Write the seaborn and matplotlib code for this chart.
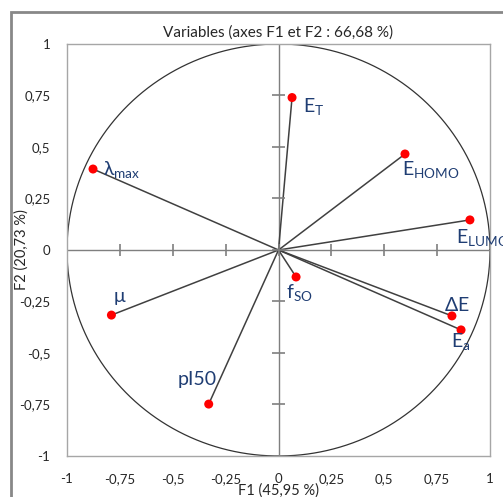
import numpy as np
import pandas as pd
import matplotlib.pyplot as plt
import seaborn as sns
from matplotlib.patches import Rectangle

# données (coordonnées des variables sur F1 / F2) ============================
variables = ['E_T', 'E_HOMO', 'E_LUMO', 'f_SO', 'dE', 'E_a', 'lmax', 'mu', 'pI50']
f1 = [0.064, 0.598, 0.905, 0.083, 0.82, 0.863, -0.877, -0.79, -0.33]
f2 = [0.74, 0.466, 0.146, -0.131, -0.32, -0.388, 0.393, -0.316, -0.748]
etiquettes = [r'E$_\mathregular{T}$', r'E$_\mathregular{HOMO}$', r'E$_\mathregular{LUMO}$',
              r'f$_\mathregular{SO}$', r'$\mathregular{\Delta}$E', r'E$_\mathregular{a}$',
              r'$\mathregular{\lambda}_\mathregular{max}$', r'$\mathregular{\mu}$', 'pI50']
ticks = [-1, -0.75, -0.5, -0.25, 0, 0.25, 0.5, 0.75, 1]
tick_labels = ['-1', '-0,75', '-0,5', '-0,25', '0', '0,25', '0,5', '0,75', '1']

df = pd.DataFrame({'var': variables, 'F1': f1, 'F2': f2})

sns.set_style('white')
plt.rcParams['font.family'] = ['Lato', 'DejaVu Sans']
plt.rcParams['mathtext.fontset'] = 'custom'
plt.rcParams['mathtext.rm'] = 'Lato'

fig = plt.figure(figsize=(5.03, 4.97), dpi=100)
ax = fig.add_axes([0.1332, 0.0825, 0.8410, 0.8290])

# cadre du graphique (style Excel)
fig.patches.append(Rectangle((11 / 503, -0.05), 1.2, 1 - 12 / 497 + 0.05,
                             transform=fig.transFigure, fill=False,
                             edgecolor='#888888', linewidth=2))

# cercle des corrélations
t = np.linspace(0, 2 * np.pi, 400)
ax.plot(np.cos(t), np.sin(t), color='#333333', linewidth=0.9, zorder=1)

# axes centraux avec graduations
gris = '#7f7f7f'
ax.axhline(0, color=gris, linewidth=1, zorder=1)
ax.axvline(0, color=gris, linewidth=1, zorder=1)
ax.vlines(ticks[1:-1], -0.03, 0.03, colors=gris, linewidth=1.2, zorder=2.5)
ax.hlines(ticks[1:-1], -0.03, 0.03, colors=gris, linewidth=1.2, zorder=2.5)

# vecteurs
for x, y in zip(f1, f2):
    ax.plot([0, x], [0, y], color='#404040', linewidth=1.1, zorder=2)

sns.scatterplot(data=df, x='F1', y='F2', color='#ff0000', s=42,
                edgecolor='none', zorder=3, ax=ax, legend=False)

# étiquettes (décalage en points)
offsets = [(8, -7, 'left'), (-2, -12, 'left'), (-10, -13, 'left'),
           (-7, -12, 'left'), (-6, 8, 'left'), (-7, -9, 'left'),
           (7, -1, 'left'), (1, 12, 'left'), (6, 18, 'right')]
for x, y, lab, (dx, dy, ha) in zip(f1, f2, etiquettes, offsets):
    ax.annotate(lab, (x, y), xytext=(dx, dy), textcoords='offset points',
                ha=ha, va='center', fontsize=14, color='#1f3d73',
                annotation_clip=False, zorder=4)

ax.set_xlim(-1, 1)
ax.set_ylim(-1, 1)
ax.set_xticks(ticks)
ax.set_yticks(ticks)
ax.set_xticklabels(tick_labels, fontsize=9.5)
ax.set_yticklabels(tick_labels, fontsize=9.5)
ax.tick_params(length=0, pad=12)
for s in ax.spines.values():
    s.set_color('#a6a6a6')
    s.set_linewidth(1)

ax.set_xlabel('F1 (45,95 %)', fontsize=10.5, labelpad=-1)
ax.set_ylabel('F2 (20,73 %)', fontsize=10.5)
ax.yaxis.set_label_coords(-0.09, 0.5)
ax.set_title('Variables (axes F1 et F2 : 66,68 %)', fontsize=11, pad=5)

fig.savefig('out.png', dpi=100)
